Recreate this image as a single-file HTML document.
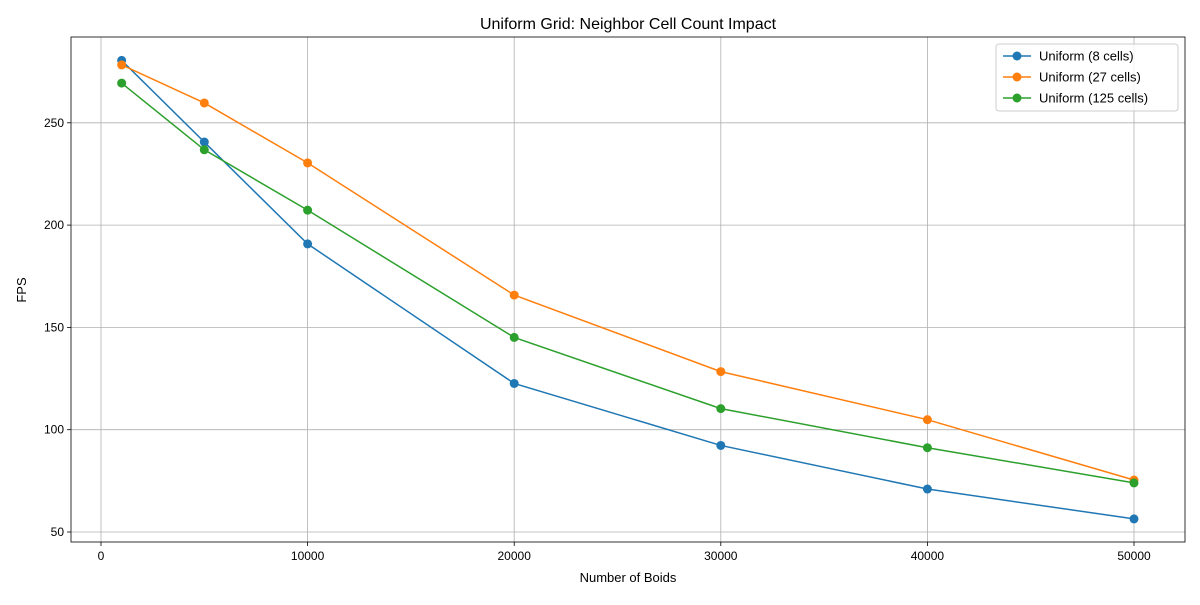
<!DOCTYPE html>
<html><head><meta charset="utf-8"><style>
body{margin:0;background:#fff;font-family:"Liberation Sans","DejaVu Sans",sans-serif}
</style></head><body>
<svg id="chart" width="1200" height="600" xmlns="http://www.w3.org/2000/svg"></svg>
<script>
const categories=[1000,5000,10000,20000,30000,40000,50000];
const series8=[280.5,240.6,190.8,122.6,92.3,71.0,56.4];
const series27=[278.3,259.7,230.4,165.8,128.4,104.9,75.4];
const series125=[269.4,236.8,207.3,145.1,110.3,91.2,74.0];
const seriesNames=["Uniform (8 cells)","Uniform (27 cells)","Uniform (125 cells)"];
const xTicks=[0,10000,20000,30000,40000,50000];
const yTicks=[50,100,150,200,250];
const colors=["#1f77b4","#ff7f0e","#2ca02c"];
const L=71,R=1185,T=37,B=542;
const xs=v=>101+(v/10000)*206.6;
const ys=v=>532-(v-50)*2.046;
const svg=document.getElementById('chart');
const NS="http://www.w3.org/2000/svg";
function mk(tag,attrs,parent){const e=document.createElementNS(NS,tag);for(const k in attrs)e.setAttribute(k,attrs[k]);(parent||svg).appendChild(e);return e;}
const grid=mk('g',{});


xTicks.forEach(t=>{const x=xs(t);
 mk('line',{x1:x,x2:x,y1:T,y2:B,stroke:'#b0b0b0','stroke-width':0.8},grid);
 mk('line',{x1:x,x2:x,y1:B,y2:B+4,stroke:'#000','stroke-width':0.8});
 const tx=mk('text',{x:x,y:B+18,'text-anchor':'middle','font-size':12});tx.textContent=t;
 
 
});
yTicks.forEach(t=>{const y=ys(t);
 mk('line',{x1:L,x2:R,y1:y,y2:y,stroke:'#b0b0b0','stroke-width':0.8},grid);
 mk('line',{x1:L-4,x2:L,y1:y,y2:y,stroke:'#000','stroke-width':0.8});
 const tx=mk('text',{x:L-7,y:y+4,'text-anchor':'end','font-size':12});tx.textContent=t;
 
 
});
[series8,series27,series125].forEach((s,i)=>{
 const g=mk('g',{});
 
 
 mk('polyline',{points:s.map((v,j)=>xs(categories[j])+','+ys(v)).join(' '),fill:'none',stroke:colors[i],'stroke-width':1.5},g);
 s.forEach((v,j)=>{const c=mk('circle',{cx:xs(categories[j]),cy:ys(v),r:4.5,fill:colors[i]},g);
  
  });
});
const frame=mk('rect',{x:L,y:T,width:R-L,height:B-T,fill:'none',stroke:'#000','stroke-width':0.8});


const title=mk('text',{x:628,y:29,'text-anchor':'middle','font-size':16});title.textContent="Uniform Grid: Neighbor Cell Count Impact";


const xl=mk('text',{x:628,y:582,'text-anchor':'middle','font-size':13});xl.textContent="Number of Boids";


const yl=mk('text',{x:26,y:290,'text-anchor':'middle','font-size':13,transform:'rotate(-90 26 290)'});yl.textContent="FPS";


const lg=mk('g',{});


mk('rect',{x:996,y:44,width:182,height:67,rx:3,fill:'#fff','fill-opacity':0.8,stroke:'#ccc'},lg);
seriesNames.forEach((n,i)=>{const y=56+i*21;
 const e=mk('g',{},lg);
 
 
 mk('line',{x1:1003,x2:1031,y1:y,y2:y,stroke:colors[i],'stroke-width':1.5},e);
 mk('circle',{cx:1017,cy:y,r:4.5,fill:colors[i]},e);
 const t=mk('text',{x:1039,y:y+4.5,'font-size':13},e);t.textContent=n;});
</script>
</body></html>
